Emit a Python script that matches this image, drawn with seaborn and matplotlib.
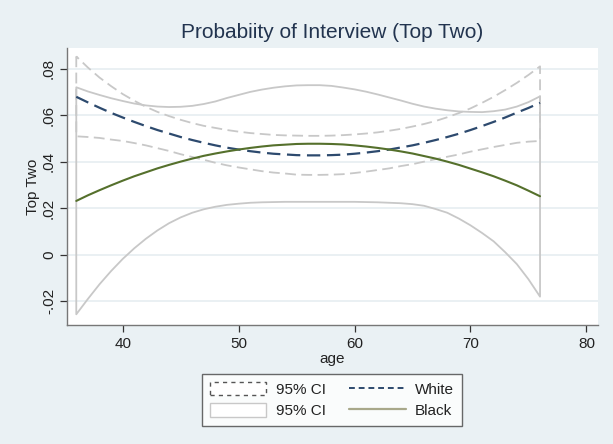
import numpy as np
import pandas as pd
import seaborn as sns
import matplotlib.pyplot as plt
from matplotlib.patches import Patch
from matplotlib.lines import Line2D

# Predicted probability of interview by age, with 95% confidence bounds
age = list(range(36, 77))

white = [0.0680, 0.0656, 0.0633, 0.0611, 0.0591, 0.0572, 0.0554, 0.0537, 0.0522, 0.0507,
         0.0494, 0.0482, 0.0471, 0.0461, 0.0453, 0.0446, 0.0440, 0.0435, 0.0432, 0.0429,
         0.0428, 0.0428, 0.0429, 0.0431, 0.0435, 0.0440, 0.0446, 0.0453, 0.0462, 0.0471,
         0.0482, 0.0494, 0.0507, 0.0521, 0.0537, 0.0554, 0.0572, 0.0591, 0.0612, 0.0632, 0.0654]
white_hi = [0.0854, 0.0806, 0.0763, 0.0726, 0.0692, 0.0663, 0.0637, 0.0615, 0.0597, 0.0581,
            0.0567, 0.0555, 0.0546, 0.0537, 0.0530, 0.0524, 0.0520, 0.0516, 0.0514, 0.0513,
            0.0512, 0.0512, 0.0513, 0.0515, 0.0518, 0.0522, 0.0527, 0.0534, 0.0542, 0.0552,
            0.0563, 0.0576, 0.0592, 0.0610, 0.0630, 0.0654, 0.0680, 0.0709, 0.0740, 0.0774, 0.0811]
white_lo = [0.0510, 0.0507, 0.0503, 0.0496, 0.0490, 0.0481, 0.0471, 0.0459, 0.0447, 0.0433,
            0.0421, 0.0409, 0.0396, 0.0385, 0.0376, 0.0368, 0.0360, 0.0354, 0.0350, 0.0345,
            0.0344, 0.0344, 0.0345, 0.0347, 0.0352, 0.0358, 0.0365, 0.0372, 0.0382, 0.0390,
            0.0401, 0.0412, 0.0422, 0.0432, 0.0444, 0.0454, 0.0464, 0.0473, 0.0482, 0.0487, 0.0490]

black = [0.0232, 0.0256, 0.0278, 0.0299, 0.0319, 0.0338, 0.0355, 0.0372, 0.0387, 0.0401,
         0.0414, 0.0426, 0.0436, 0.0445, 0.0453, 0.0460, 0.0466, 0.0471, 0.0474, 0.0477,
         0.0478, 0.0478, 0.0477, 0.0475, 0.0471, 0.0466, 0.0460, 0.0453, 0.0445, 0.0436,
         0.0425, 0.0414, 0.0401, 0.0387, 0.0371, 0.0355, 0.0338, 0.0319, 0.0299, 0.0276, 0.0252]
black_hi = [0.0721, 0.0703, 0.0688, 0.0674, 0.0662, 0.0651, 0.0643, 0.0638, 0.0636, 0.0637,
            0.0641, 0.0649, 0.0660, 0.0675, 0.0688, 0.0701, 0.0711, 0.0719, 0.0725, 0.0729,
            0.0730, 0.0730, 0.0727, 0.0720, 0.0712, 0.0702, 0.0690, 0.0677, 0.0664, 0.0650,
            0.0638, 0.0629, 0.0622, 0.0617, 0.0615, 0.0614, 0.0618, 0.0625, 0.0638, 0.0657, 0.0682]
black_lo = [-0.0256, -0.0190, -0.0127, -0.0070, -0.0018, 0.0028, 0.0069, 0.0105, 0.0136, 0.0161,
            0.0181, 0.0196, 0.0207, 0.0215, 0.0220, 0.0224, 0.0226, 0.0227, 0.0228, 0.0228,
            0.0228, 0.0228, 0.0228, 0.0228, 0.0228, 0.0227, 0.0226, 0.0224, 0.0222, 0.0218,
            0.0211, 0.0197, 0.0181, 0.0156, 0.0127, 0.0094, 0.0058, 0.0011, -0.0040, -0.0105, -0.0180]

x_ticks = [40, 50, 60, 70, 80]
y_ticks = [-0.02, 0, 0.02, 0.04, 0.06, 0.08]
y_tick_labels = ["-.02", "0", ".02", ".04", ".06", ".08"]

df = pd.DataFrame({"age": age, "White": white, "Black": black})

BG = "#eaf1f4"
GRID = "#e6eef1"
NAVY = "#2d4a6e"
OLIVE = "#55702c"
CI_GRAY = "#c8c8c8"
TITLE = "#22344f"

sns.set_theme(style="white")
plt.rcParams["font.family"] = ["Liberation Sans", "DejaVu Sans"]

fig = plt.figure(figsize=(6.13, 4.44), dpi=100, facecolor=BG)
ax = fig.add_axes([67 / 613, 1 - 325 / 444, (598 - 67) / 613, (325 - 48) / 444])
ax.set_facecolor("white")

# confidence bands: outlined only
ax.fill_between(age, black_lo, black_hi, facecolor="none", edgecolor=CI_GRAY,
                linewidth=1.3, linestyle="-", zorder=2)
ax.fill_between(age, white_lo, white_hi, facecolor="none", edgecolor=CI_GRAY,
                linewidth=1.3, linestyle=(0, (6, 3)), zorder=2)

sns.lineplot(data=df, x="age", y="White", ax=ax, color=NAVY, linewidth=1.6,
             linestyle=(0, (6, 3)), zorder=3)
sns.lineplot(data=df, x="age", y="Black", ax=ax, color=OLIVE, linewidth=1.5, zorder=3)

ax.set_xlim(35.2, 81)
ax.set_ylim(-0.0302, 0.089)
ax.set_xticks(x_ticks)
ax.set_yticks(y_ticks)
ax.set_yticklabels(y_tick_labels, rotation=90, va="center")
ax.tick_params(axis="both", labelsize=11, colors="#333333", length=5, width=0.9,
               direction="out", bottom=True, left=True)
ax.tick_params(axis="y", pad=3)
for t in ax.get_xticklabels() + ax.get_yticklabels():
    t.set_color("#222222")

ax.grid(axis="y", color=GRID, linewidth=1.2)
ax.set_axisbelow(True)
for side in ["top", "right"]:
    ax.spines[side].set_visible(False)
for side in ["left", "bottom"]:
    ax.spines[side].set_color("#777777")
    ax.spines[side].set_linewidth(1.0)

ax.set_xlabel("age", fontsize=11, color="#222222", labelpad=1)
ax.set_ylabel("Top Two", fontsize=11, color="#222222", labelpad=1)
fig.text(332.5 / 613, 1 - 33 / 444, "Probabiity of Interview (Top Two)", ha="center",
         va="center", fontsize=15, color=TITLE)

handles = [
    Patch(facecolor="white", edgecolor="#555555", linestyle=(0, (3, 3)), linewidth=1.0),
    Patch(facecolor="white", edgecolor=CI_GRAY, linewidth=1.0),
    Line2D([], [], color=NAVY, linestyle=(0, (3, 2)), linewidth=1.4),
    Line2D([], [], color="#a8a88a", linewidth=1.6),
]
labels = ["95% CI", "95% CI", "White", "Black"]
leg = fig.legend(handles, labels, ncol=2, loc="center", bbox_to_anchor=(332 / 613, 1 - 400 / 444),
                 fontsize=11, frameon=True, fancybox=False, handlelength=3.7, handleheight=1.0,
                 columnspacing=1.55, handletextpad=0.6, borderpad=0.5, labelspacing=0.42,
                 markerfirst=True)
leg.get_frame().set_edgecolor("#444444")
leg.get_frame().set_linewidth(1.0)
leg.get_frame().set_facecolor("white")
for t in leg.get_texts():
    t.set_color("#222222")

fig.savefig("out.png", dpi=100, facecolor=BG)
